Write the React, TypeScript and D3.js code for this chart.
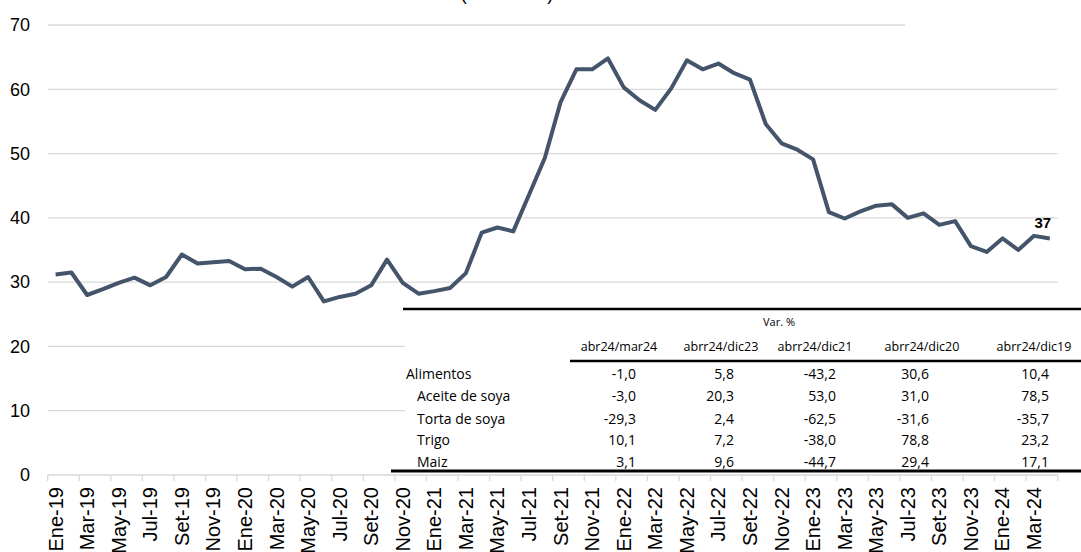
import React from "react";
import * as d3 from "d3";

const monthNames = ["Ene", "Feb", "Mar", "Abr", "May", "Jun", "Jul", "Ago", "Set", "Oct", "Nov", "Dic"];
const years = ["19", "20", "21", "22", "23", "24"];
const categories: string[] = [];
years.forEach((y) => monthNames.forEach((m) => categories.push(`${m}-${y}`)));
categories.splice(64);

const values = [
  31.2, 31.5, 28.0, 28.9, 29.9, 30.7, 29.5, 30.8, 34.3, 32.9, 33.1, 33.3,
  32.0, 32.1, 30.8, 29.3, 30.8, 27.0, 27.7, 28.2, 29.5, 33.5, 29.9, 28.2,
  28.6, 29.1, 31.4, 37.7, 38.5, 37.9, 43.6, 49.3, 58.0, 63.1, 63.1, 64.8,
  60.3, 58.3, 56.8, 60.1, 64.5, 63.1, 64.0, 62.5, 61.5, 54.6, 51.6, 50.6,
  49.1, 40.9, 39.9, 41.0, 41.9, 42.1, 40.0, 40.7, 38.9, 39.5, 35.6, 34.7,
  36.8, 35.0, 37.2, 36.8,
];
const yTicks = [0, 10, 20, 30, 40, 50, 60, 70];
const lastLabel = "37";
const titleText = "(2016=100)";

const tableTitle = "Var. %";
const tableCols = ["abr24/mar24", "abrr24/dic23", "abrr24/dic21", "abrr24/dic20", "abrr24/dic19"];
const tableRows = ["Alimentos", "Aceite de soya", "Torta de soya", "Trigo", "Maiz"];
const colMar24 = ["-1,0", "-3,0", "-29,3", "10,1", "3,1"];
const colDic23 = ["5,8", "20,3", "2,4", "7,2", "9,6"];
const colDic21 = ["-43,2", "53,0", "-62,5", "-38,0", "-44,7"];
const colDic20 = ["30,6", "31,0", "-31,6", "78,8", "29,4"];
const colDic19 = ["10,4", "78,5", "-35,7", "23,2", "17,1"];
const tableValues = [colMar24, colDic23, colDic21, colDic20, colDic19];

const W = 1081;
const H = 552;

export default function App() {
  const x = d3.scaleBand<string>().domain(categories).range([47.7, 1057.7]).padding(0);
  const y = d3.scaleLinear().domain([0, 70]).range([475, 25]);
  const cx = (c: string) => (x(c) as number) + x.bandwidth() / 2;

  const line = d3
    .line<number>()
    .x((_, i) => cx(categories[i]))
    .y((v) => y(v));

  const tickIdx = d3.range(0, categories.length + 1, 2);
  const labelIdx = d3.range(0, categories.length, 2);

  const axisFont = "'Liberation Sans', Arial, sans-serif";
  const tableFont = "'Open Sans', 'Noto Sans', sans-serif";

  const colHeaderX = [619, 721, 815, 922, 1034];
  const colRight = [636, 734, 836, 929, 1049];
  const rowY = [379, 401, 424, 445, 467];
  const rowX = [406, 417, 417, 417, 417];

  const last = values.length - 1;

  return (
    <svg
      width={W}
      height={H}
      style={{ position: "absolute", left: 0, top: 0, background: "#fff" }}
    >
      <rect x={0} y={0} width={W} height={H} fill="#fff" />
      {yTicks
        .filter((t) => t > 0)
        .map((t) => (
          <line
            key={t}
            x1={47.7}
            x2={1057.7}
            y1={y(t)}
            y2={y(t)}
            stroke="#D9D9D9"
            strokeWidth={1.3}
          />
        ))}
      <rect x={905} y={15} width={W - 905} height={20} fill="#fff" />
      <text x={507} y={0} fontFamily={axisFont} fontSize={18} textAnchor="middle" fill="#000">
        {titleText}
      </text>
      {yTicks.map((t) => (
        <text
          key={t}
          x={30}
          y={y(t)}
          dy="0.35em"
          fontFamily={axisFont}
          fontSize={18}
          textAnchor="end"
          fill="#000"
        >
          {t}
        </text>
      ))}
      <line x1={47.7} x2={1057.7} y1={475} y2={475} stroke="#D9D9D9" strokeWidth={1.3} />
      {tickIdx.map((i) => {
        const xx = i < categories.length ? (x(categories[i]) as number) : 1057.7;
        return <line key={i} x1={xx} x2={xx} y1={475} y2={481} stroke="#D9D9D9" strokeWidth={1.3} />;
      })}
      {labelIdx.map((i) => (
        <text
          key={i}
          transform={`translate(${cx(categories[i])},487) rotate(-90)`}
          textAnchor="end"
          dy="0.35em"
          fontFamily={axisFont}
          fontSize={20}
          fill="#000"
        >
          {categories[i]}
        </text>
      ))}

      <rect x={405} y={310} width={W - 405} height={160} fill="#fff" />

      <path d={line(values) || ""} fill="none" stroke="#44546A" strokeWidth={4} strokeLinejoin="round" />
      <text
        x={cx(categories[last]) - 7}
        y={228}
        fontFamily="'Liberation Sans', Arial, sans-serif"
        fontWeight="bold"
        fontSize={15}
        textAnchor="middle"
        fill="#000"
      >
        {lastLabel}
      </text>

      <line x1={403} x2={W} y1={309} y2={309} stroke="#000" strokeWidth={2.5} />
      <text x={779} y={326} fontFamily={tableFont} fontSize={11} textAnchor="middle" fill="#000">
        {tableTitle}
      </text>
      {tableCols.map((c, j) => (
        <text
          key={c}
          x={colHeaderX[j]}
          y={351}
          fontFamily={tableFont}
          fontSize={12.5}
          textAnchor="middle"
          fill="#000"
        >
          {c}
        </text>
      ))}
      <line x1={570} x2={W} y1={361} y2={361} stroke="#000" strokeWidth={2.5} />
      {tableRows.map((r, i) => (
        <g key={r}>
          <text x={rowX[i]} y={rowY[i]} fontFamily={tableFont} fontSize={14} fill="#000">
            {r}
          </text>
          {tableValues.map((col, j) => (
            <text
              key={j}
              x={colRight[j]}
              y={rowY[i]}
              fontFamily={tableFont}
              fontSize={14}
              textAnchor="end"
              fill="#000"
            >
              {col[i]}
            </text>
          ))}
        </g>
      ))}
      <line x1={391} x2={W} y1={471} y2={471} stroke="#000" strokeWidth={3} />
    </svg>
  );
}
